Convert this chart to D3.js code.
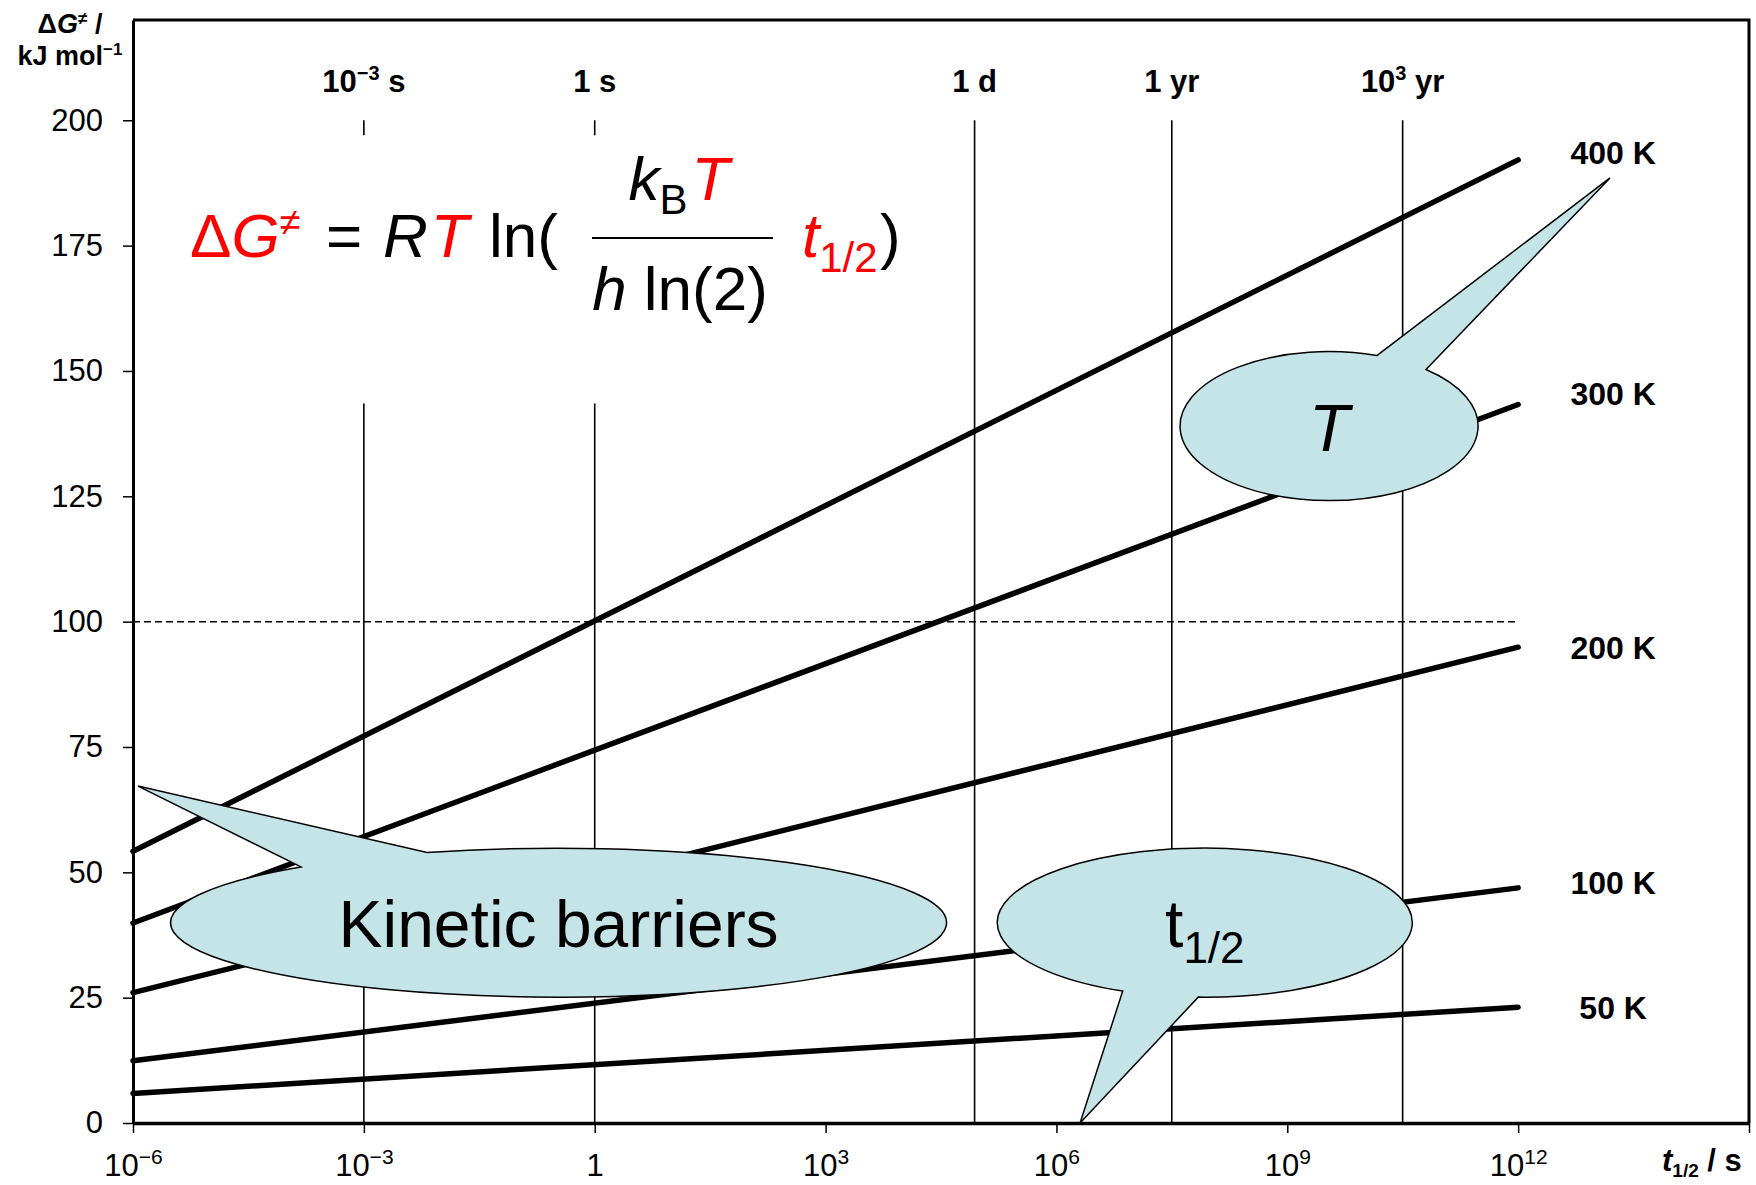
<!DOCTYPE html>
<html>
<head>
<meta charset="utf-8">
<script src="https://cdn.jsdelivr.net/npm/d3@7"></script>
<style>
  body { margin: 0; background: #fff; }
  svg text { font-family: "Liberation Sans", Arial, sans-serif; fill: #000; }
</style>
</head>
<body>
<svg id="chart" width="1756" height="1185"></svg>
<script>
// values
const temperatures = [400, 300, 200, 100, 50];            // K
const halfLifeEnds = [1e-6, 1e12];                        // s
const barrierAtStart = [54.2, 39.9, 26.0, 12.4, 5.9];     // kJ/mol at 1e-6 s
const barrierAtEnd = [192.1, 143.3, 94.9, 46.9, 23.1];    // kJ/mol at 1e12 s
const referenceBarrier = 100;

const markerTimes = [1e-3, 1, 86400, 3.156e7, 3.156e10];
const markerTexts = [["10", "\u22123", " s"], ["1 s"], ["1 d"], ["1 yr"], ["10", "3", " yr"]];
const markerTops = [143.5, 143.5, 200, 200, 200];

const yTicks = [0, 25, 50, 75, 100, 125, 150, 175, 200];
const xTickExps = [-6, -3, 0, 3, 6, 9, 12, 15];
const xTickLabels = [["10", "\u22126"], ["10", "\u22123"], ["1"], ["10", "3"], ["10", "6"], ["10", "9"], ["10", "12"], [""]];

// speech bubbles: centre and tip in data units, base of the tail as angles on the ellipse
const callouts = [
  { label: "Kinetic barriers", t: Math.pow(10, -0.47), dg: 39.96, tipT: Math.pow(10, -5.935), tipDG: 67.2, a1: -131.6, a2: -109.8 },
  { label: "T", t: Math.pow(10, 9.543), dg: 139.0, tipT: Math.pow(10, 13.194), tipDG: 188.5, a1: -71.3, a2: -49.4 },
  { label: "t", sub: "1/2", t: Math.pow(10, 7.928), dg: 39.96, tipT: Math.pow(10, 6.307), tipDG: 0, a1: 113.3, a2: 91.8 }
];
const calloutRadii = [[388, 74.5], [149, 74.5], [207.5, 74.5]];
// small vertical nudges of the temperature labels (px)
const labelNudge = [-7, -11, 0, -5, 0];

const W = 1756, H = 1185;
const m = { left: 133, top: 20, right: 7, bottom: 62 };
const svg = d3.select('#chart');

const x = d3.scaleLog().domain([1e-6, 1e15]).range([m.left, W - m.right]);
const y = d3.scaleLinear().domain([0, 220]).range([H - m.bottom, m.top]);

// frame (top + right)
svg.append('path')
  .attr('d', `M${m.left},${m.top}H${W - m.right}V${H - m.bottom}`)
  .attr('fill', 'none').attr('stroke', '#000').attr('stroke-width', 3);

// time markers
const markers = svg.append('g').attr('class', 'markers');
markerTimes.forEach(function (t, i) {
  markers.append('line')
    .attr('x1', x(t)).attr('x2', x(t))
    .attr('y1', y(markerTops[i])).attr('y2', y(0))
    .attr('stroke', '#000').attr('stroke-width', 1.6);
  if (markerTops[i] < 200) {
    markers.append('line')
      .attr('x1', x(t)).attr('x2', x(t))
      .attr('y1', y(200)).attr('y2', y(197))
      .attr('stroke', '#000').attr('stroke-width', 1.6);
  }
  let txt = markers.append('text')
    .attr('x', x(t)).attr('y', y(200) - 28)
    .attr('text-anchor', 'middle')
    .attr('font-size', 31).attr('font-weight', 'bold');
  let parts = markerTexts[i];
  txt.append('tspan').text(parts[0]);
  if (parts.length > 1) {
    txt.append('tspan').attr('font-size', 20).attr('dy', -12).text(parts[1]);
    txt.append('tspan').attr('dy', 12).text(parts[2]);
  }
});

// reference barrier
svg.append('line')
  .attr('x1', x(halfLifeEnds[0])).attr('x2', x(halfLifeEnds[1]))
  .attr('y1', y(referenceBarrier)).attr('y2', y(referenceBarrier))
  .attr('stroke', '#000').attr('stroke-width', 1.5)
  .attr('stroke-dasharray', '7,4');

// barrier lines
const line = d3.line().x(d => x(d.t)).y(d => y(d.v));
const series = temperatures.map((T, i) => ({
  T: T,
  values: [{ t: halfLifeEnds[0], v: barrierAtStart[i] }, { t: halfLifeEnds[1], v: barrierAtEnd[i] }]
}));

svg.append('g').selectAll('path').data(series).enter()
  .append('path')
  .attr('d', d => line(d.values))
  .attr('fill', 'none').attr('stroke', '#000')
  .attr('stroke-width', 5.5).attr('stroke-linecap', 'round');

svg.append('g').selectAll('text').data(series).enter()
  .append('text')
  .attr('x', x(halfLifeEnds[1]) + 95)
  .attr('y', (d, i) => y(d.values[1].v) + labelNudge[i])
  .attr('dy', '0.36em')
  .attr('text-anchor', 'middle')
  .attr('font-size', 32).attr('font-weight', 'bold')
  .text(d => d.T + ' K');

// axes
const gy = svg.append('g')
  .attr('transform', `translate(${m.left},0)`)
  .call(d3.axisLeft(y).tickValues(yTicks).tickSize(10).tickSizeOuter(0).tickPadding(20));
gy.select('.domain').attr('stroke-width', 3);
gy.selectAll('.tick line').attr('stroke-width', 1.5);
gy.selectAll('.tick text').attr('font-size', 31).attr('fill', '#000');

const gx = svg.append('g')
  .attr('transform', `translate(0,${H - m.bottom})`)
  .call(d3.axisBottom(x).tickValues(xTickExps.map(e => Math.pow(10, e))).tickSize(10).tickSizeOuter(0).tickPadding(21));
gx.select('.domain').attr('stroke-width', 3.5);
gx.selectAll('.tick line').attr('stroke-width', 1.5);
gx.selectAll('.tick text').each(function (d, i) {
  let el = d3.select(this).text(null).attr('font-size', 31).attr('fill', '#000');
  let parts = xTickLabels[i];
  el.append('tspan').text(parts[0]);
  if (parts.length > 1) el.append('tspan').attr('font-size', 21).attr('dy', -12).text(parts[1]);
});
svg.selectAll('.tick text').style('font-family', '"Liberation Sans", Arial, sans-serif');

// axis titles
const xt = svg.append('text')
  .attr('x', 1662).attr('y', H - m.bottom + 48)
  .attr('font-size', 31).attr('font-weight', 'bold');
xt.append('tspan').attr('font-style', 'italic').text('t');
xt.append('tspan').attr('font-size', 19).attr('dy', 6).text('1/2');
xt.append('tspan').attr('dy', -6).text(' / s');

const yt1 = svg.append('text')
  .attr('x', 70).attr('y', 33).attr('text-anchor', 'middle')
  .attr('font-size', 27).attr('font-weight', 'bold');
yt1.append('tspan').text('\u0394');
yt1.append('tspan').attr('font-style', 'italic').text('G');
yt1.append('tspan').attr('font-size', 17).attr('dy', -9).text('\u2260');
yt1.append('tspan').attr('dy', 9).text(' /');

const yt2 = svg.append('text')
  .attr('x', 70).attr('y', 65).attr('text-anchor', 'middle')
  .attr('font-size', 27).attr('font-weight', 'bold');
yt2.append('tspan').text('kJ mol');
yt2.append('tspan').attr('font-size', 17).attr('dy', -10).text('\u22121');

// formula
const red = '#ff0000';
const fs = 62;
const f = svg.append('g').attr('class', 'formula').attr('font-size', fs);
let t1 = f.append('text').attr('x', 190).attr('y', 257).attr('fill', red);
t1.append('tspan').attr('fill', red).text('\u0394');
t1.append('tspan').attr('fill', red).attr('font-style', 'italic').text('G');
t1.append('tspan').attr('fill', red).attr('font-size', 38).attr('dy', -22).text('\u2260');
f.append('text').attr('x', 326).attr('y', 257).text('=');
let t2 = f.append('text').attr('x', 383).attr('y', 257).attr('font-style', 'italic');
t2.append('tspan').text('R');
t2.append('tspan').attr('fill', red).attr('dx', 4).text('T');
f.append('text').attr('x', 489).attr('y', 257).text('ln(');
let num = f.append('text').attr('x', 679).attr('y', 200).attr('text-anchor', 'middle');
num.append('tspan').attr('font-style', 'italic').text('k');
num.append('tspan').attr('font-size', 42).attr('dy', 14).text('B');
num.append('tspan').attr('fill', red).attr('font-style', 'italic').attr('dy', -14).attr('dx', 4).text('T');
f.append('line')
  .attr('x1', 592).attr('x2', 773).attr('y1', 238).attr('y2', 238)
  .attr('stroke', '#000').attr('stroke-width', 2);
let den = f.append('text').attr('x', 680).attr('y', 310).attr('text-anchor', 'middle');
den.append('tspan').attr('font-style', 'italic').text('h');
den.append('tspan').text(' ln(2)');
let t3 = f.append('text').attr('x', 802).attr('y', 257).attr('fill', red);
t3.append('tspan').attr('fill', red).attr('font-style', 'italic').text('t');
t3.append('tspan').attr('fill', red).attr('font-size', 42).attr('dy', 15).text('1/2');
f.append('text').attr('x', 880).attr('y', 257).text(')');

// callouts on top
function calloutPath(c, r) {
  let cx = x(c.t), cy = y(c.dg);
  let p = a => [cx + r[0] * Math.cos(a * Math.PI / 180), cy + r[1] * Math.sin(a * Math.PI / 180)];
  let b1 = p(c.a1), b2 = p(c.a2), tip = [x(c.tipT), y(c.tipDG)];
  let d = c.a1 - c.a2;
  d = ((d + 540) % 360) - 180;
  let sweep = d > 0 ? 0 : 1;
  return `M${b1}L${tip}L${b2}A${r[0]},${r[1]} 0 1 ${sweep} ${b1}Z`;
}

const cg = svg.append('g').attr('class', 'callouts');
callouts.forEach(function (c, i) {
  cg.append('path')
    .attr('d', calloutPath(c, calloutRadii[i]))
    .attr('fill', '#c5e4e8').attr('stroke', '#000').attr('stroke-width', 1.5)
    .attr('stroke-linejoin', 'miter');
  let tx = cg.append('text')
    .attr('x', x(c.t)).attr('y', y(c.dg))
    .attr('dy', '0.37em').attr('text-anchor', 'middle')
    .attr('font-size', 66);
  if (c.label === 'T') tx.attr('font-style', 'italic');
  tx.append('tspan').text(c.label);
  if (c.sub) tx.append('tspan').attr('font-size', 44).attr('dy', 16).text(c.sub);
});
</script>
</body>
</html>
